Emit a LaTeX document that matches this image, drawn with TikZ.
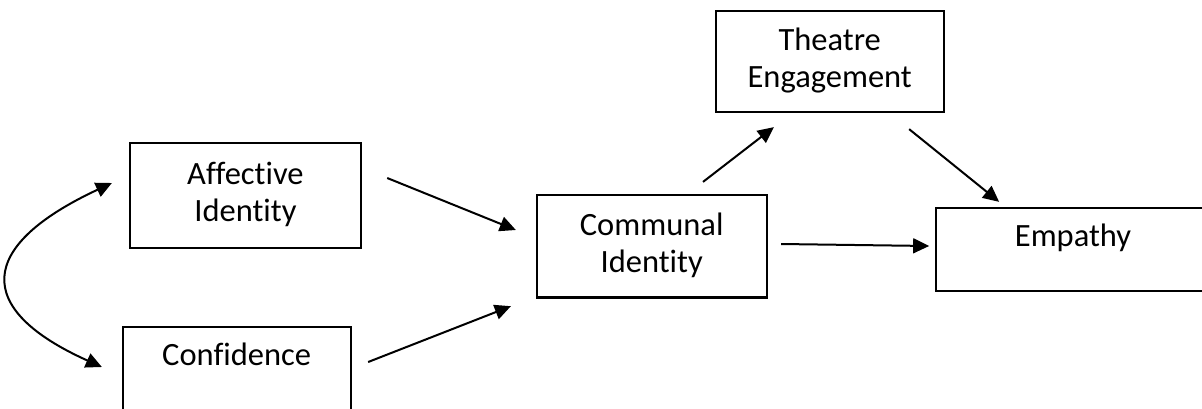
\documentclass[tikz,border=0pt]{standalone}
\usepackage{fontspec}
\setmainfont{Carlito}[Ligatures=NoCommon]
\usetikzlibrary{arrows.meta}
\tikzset{
  box/.style={draw=black, line width=2.3pt, rectangle, inner sep=0pt, align=center,
    font=\fontsize{32.5}{37}\selectfont},
  conn/.style={line width=2pt, -{Triangle[length=16pt,width=15pt]}},
  biconn/.style={line width=2pt, {Triangle[length=16pt,width=15pt]}-{Triangle[length=16pt,width=15pt]}}
}
\begin{document}
\begin{tikzpicture}[x=1pt,y=-1pt]
\path[use as bounding box, clip] (0,0) rectangle (1202,408);
\fill[white] (0,0) rectangle (1202,408);

\node[box, minimum width=230.7pt, minimum height=105.3pt] (aff) at (245.4,195.4) {\strut Affective\\\strut Identity};
\node[box, minimum width=228pt, minimum height=98.8pt] (conf) at (236.7,376.1) {\strut Confidence\\\strut~};
\node[box, minimum width=230pt, minimum height=102.3pt] (comm) at (651.7,246.2) {\strut Communal\\\strut Identity};
\node[box, minimum width=228pt, minimum height=101.6pt] (theat) at (829.7,61.5) {\strut Theatre\\\strut Engagement};
\node[box, minimum width=274pt, minimum height=82.4pt, text height=22pt, text depth=27.6pt] (emp) at (1073,249.5) {Empathy};

\draw[conn] ([shift={(25.3,-17.4)}]aff.east) -- ([shift={(-19.7,-16.2)}]comm.west);
\draw[conn] ([shift={(16.3,-14.1)}]conf.east) -- ([shift={(-24.7,7.7)}]comm.south west);
\draw[conn] ([shift={(51.3,-12)}]comm.north) -- ([shift={(59.3,13.7)}]theat.south west);
\draw[conn] ([shift={(-35.7,15.7)}]theat.south east) -- ([shift={(64.3,-5.3)}]emp.north west);
\draw[conn] ([shift={(13.3,-2.2)}]comm.east) -- ([shift={(-5.7,-3.5)}]emp.west);
\draw[biconn] ([shift={(-17,-12.4)}]aff.west) .. controls ([shift={(-152,50.6)}]aff.west) and ([shift={(-148.7,-67.1)}]conf.west) .. ([shift={(-19.7,-9.1)}]conf.west);
\end{tikzpicture}
\end{document}
